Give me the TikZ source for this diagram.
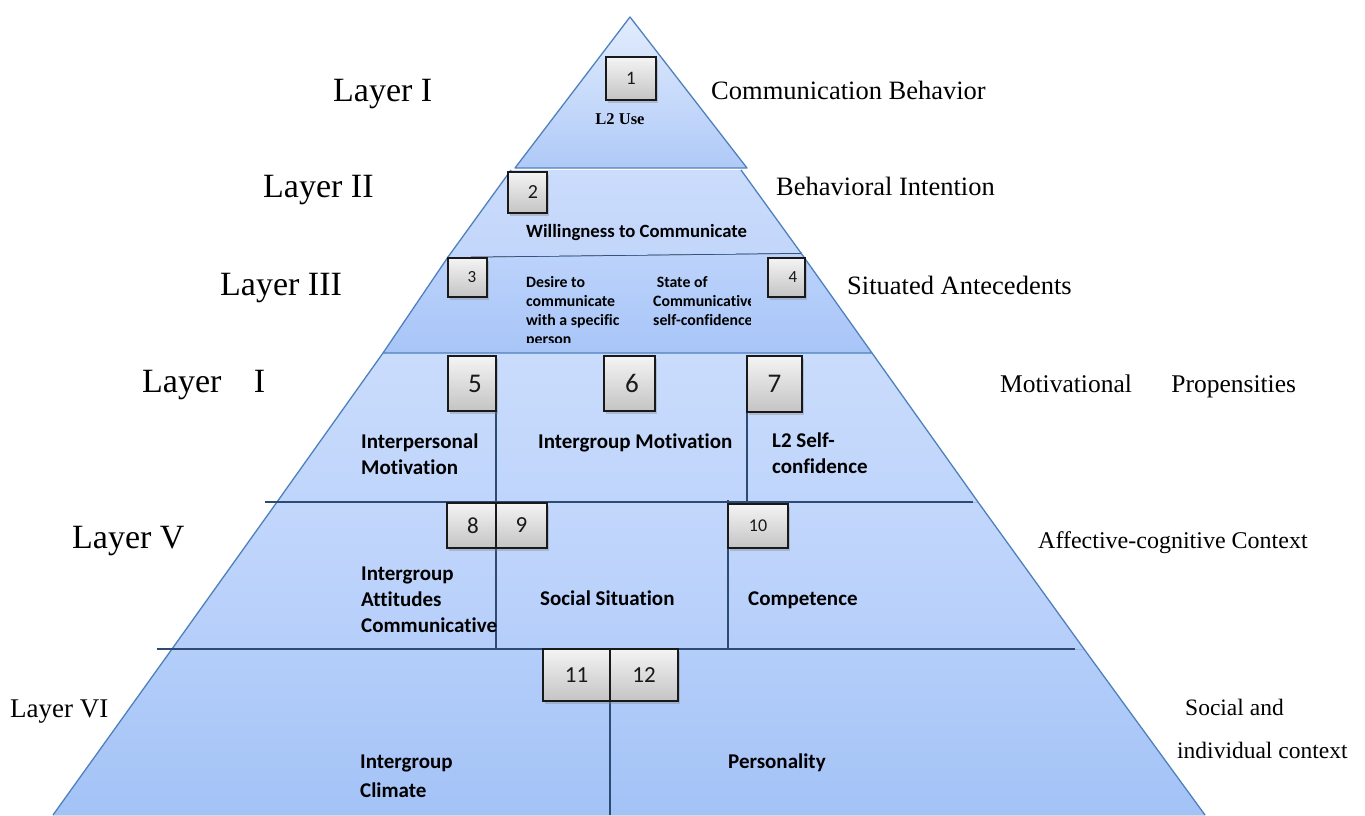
\documentclass[tikz,border=0pt]{standalone}
\usepackage{fontspec}
\setmainfont{Liberation Serif}
\newfontfamily\calibri[Ligatures=NoCommon]{Carlito}
\usetikzlibrary{shadows}
\definecolor{edgeblue}{HTML}{4F81BD}
\definecolor{navyline}{HTML}{2C4A72}
\definecolor{boxtop}{HTML}{F4F4F4}
\definecolor{boxbot}{HTML}{C4C4C4}
\definecolor{l6a}{HTML}{B4CEFA}
\definecolor{l6b}{HTML}{A3C2F6}
\definecolor{l5a}{HTML}{C3D7FC}
\definecolor{l5b}{HTML}{B5CEFA}
\definecolor{l4a}{HTML}{CADCFC}
\definecolor{l4b}{HTML}{BFD5FB}
\definecolor{l3a}{HTML}{BCD3FB}
\definecolor{l3b}{HTML}{A8C5F8}
\definecolor{l2a}{HTML}{CBDCFC}
\definecolor{l2b}{HTML}{C2D6FB}
\definecolor{l1a}{HTML}{E2ECFD}
\definecolor{l1b}{HTML}{AFCAF8}
\begin{document}
\begin{tikzpicture}[x=1pt,y=-1pt,
  layerfill/.style={draw=edgeblue, line width=1.3pt, line join=round},
  numbox/.style={draw=black!90, line width=1.5pt, top color=boxtop, bottom color=boxbot,
     drop shadow={opacity=0.35,shadow xshift=1.5pt,shadow yshift=-2.5pt},
     inner sep=0pt, font=\calibri, text=black!90},
  sidelbl/.style={anchor=base west, inner sep=0pt, font=\fontsize{26.5}{30}\selectfont},
  taglbl/.style={anchor=base west, inner sep=0pt, font=\fontsize{34}{40}\selectfont},
  cellbig/.style={anchor=base west, inner sep=0pt, align=left, font=\calibri\bfseries\fontsize{21}{26}\selectfont},
  cellsmall/.style={anchor=base west, inner sep=0pt, align=left, font=\calibri\bfseries\fontsize{15.8}{19}\selectfont},
  divider/.style={draw=navyline, line width=1.2pt},
  sepline/.style={draw=navyline, line width=1.8pt}]
\useasboundingbox (0,0) rectangle (1365,815);

% layer 6
\fill[top color=l6a, bottom color=l6b] (172,649) -- (1084,649) -- (1205,815) -- (53,815) -- cycle;
\draw[edgeblue, line width=1.3pt] (172,649) -- (53,815) (1084,649) -- (1205,815);
% layer 5
\fill[top color=l5a, bottom color=l5b] (277,502) -- (978,502) -- (1084,649) -- (172,649) -- cycle;
\draw[edgeblue, line width=1.3pt] (277,502) -- (172,649) (978,502) -- (1084,649);
% layer 4
\fill[top color=l4a, bottom color=l4b] (383,353) -- (872,353) -- (978,502) -- (277,502) -- cycle;
\draw[edgeblue, line width=1.3pt] (383,353) -- (277,502) (872,353) -- (978,502);
% layer 3
\path[layerfill, top color=l3a, bottom color=l3b] (448,257) -- (801,253) -- (872,353) -- (383,353) -- cycle;
\draw[navyline, line width=1.5pt] (448,257) -- (801,253);
% layer 2
\fill[top color=l2a, bottom color=l2b] (511,170) -- (741,170) -- (801,253) -- (448,257) -- cycle;
\draw[edgeblue, line width=1.3pt] (511,170) -- (448,257) (741,170) -- (801,253);
% layer 1
\path[layerfill, top color=l1a, bottom color=l1b] (630,17) -- (747,168) -- (515,168) -- cycle;

% separators and dividers
\draw[sepline] (265,502) -- (973,502);
\draw[sepline] (157,649) -- (1075,649);
\draw[divider] (496,411) -- (496,649);
\draw[divider] (747,412) -- (747,502);
\draw[divider] (728,500) -- (728,649);
\draw[divider] (610,701) -- (610,815);

% number boxes
\node[numbox, minimum width=50pt, minimum height=43pt, font=\calibri\fontsize{19}{20}\selectfont] (b1) at (631,78.5) {1};
\node[numbox, minimum width=39pt, minimum height=41pt, font=\calibri\fontsize{20}{20}\selectfont] (b2) at (527.5,192.5) {\hspace*{11pt}2};
\node[numbox, minimum width=39pt, minimum height=39pt, font=\calibri\fontsize{17}{20}\selectfont] (b3) at (467.5,277.5) {\hspace*{9pt}3};
\node[numbox, minimum width=37pt, minimum height=39pt, font=\calibri\fontsize{17}{20}\selectfont] (b4) at (786.5,277.5) {\hspace*{13pt}4};
\node[numbox, minimum width=48pt, minimum height=55pt, font=\calibri\fontsize{27}{28}\selectfont] (b5) at (472,383.5) {\hspace*{6pt}5};
\node[numbox, minimum width=51pt, minimum height=55pt, font=\calibri\fontsize{27}{28}\selectfont] (b6) at (629.5,383.5) {\hspace*{5pt}6};
\node[numbox, minimum width=55pt, minimum height=56pt, font=\calibri\fontsize{27}{28}\selectfont] (b7) at (774.5,384) {7};
\node[numbox, minimum width=49pt, minimum height=45pt, font=\calibri\fontsize{23}{24}\selectfont] (b8) at (471.5,525.5) {\hspace*{3pt}8};
\node[numbox, minimum width=51pt, minimum height=45pt, font=\calibri\fontsize{23}{24}\selectfont] (b9) at (521.5,525.5) {9};
\node[numbox, minimum width=60pt, minimum height=44pt, font=\calibri\fontsize{18}{20}\selectfont] (b10) at (758,526) {10};
\node[numbox, minimum width=67pt, minimum height=52pt, font=\calibri\fontsize{23}{24}\selectfont] (b11) at (576.5,675) {11};
\node[numbox, minimum width=68pt, minimum height=52pt, font=\calibri\fontsize{23}{24}\selectfont] (b12) at (644,675) {12};

% cell texts (base anchor = last line baseline)
\node[anchor=base, inner sep=0pt, font=\bfseries\fontsize{16.5}{18}\selectfont] (t1) at (620,124) {L2 Use};
\node[anchor=base west, inner sep=0pt, font=\calibri\bfseries\fontsize{18.7}{24}\selectfont] (t2) at (526,237) {Willingness to Communicate};
\begin{scope}
\clip (500,260) rectangle (750,342);
\node[cellsmall] (t3) at (526,344) {Desire to\\communicate\\with a specific\\person};
\node[cellsmall] (t4) at (653,325) {\ State of\\Communicative\\self-confidence};
\end{scope}
\node[cellbig] (t5) at (361,474) {Interpersonal\\Motivation};
\node[cellbig] (t6) at (538,448) {Intergroup Motivation};
\node[cellbig] (t7) at (772,473) {L2 Self-\\confidence};
\node[cellbig] (t8) at (361,632) {Intergroup\\Attitudes\\Communicative};
\node[cellbig] (t9) at (540,605) {Social Situation};
\node[cellbig] (t10) at (748,605) {Competence};
\node[cellbig, font=\calibri\bfseries\fontsize{21}{29}\selectfont] (t11) at (360,797) {Intergroup\\Climate};
\node[cellbig] (t12) at (728,768) {Personality};

% layer tags
\node[taglbl] (g1) at (333,101) {Layer I};
\node[taglbl] (g2) at (263,197) {Layer II};
\node[taglbl] (g3) at (220,295) {Layer III};
\node[taglbl] (g4) at (142,392) {Layer\hspace*{24pt} I};
\node[taglbl] (g5) at (72,548) {Layer V};
\node[taglbl, font=\fontsize{27}{30}\selectfont] (g6) at (10,717) {Layer VI};

% side labels
\node[sidelbl] (s1) at (711,99) {Communication Behavior};
\node[sidelbl] (s2) at (776,195) {Behavioral Intention};
\node[sidelbl] (s3) at (847,294) {Situated Antecedents};
\node[sidelbl, font=\fontsize{25.5}{30}\selectfont] (s4) at (1000,392) {Motivational\hspace*{33pt} Propensities};
\node[sidelbl, font=\fontsize{24}{30}\selectfont] (s5) at (1038,548) {Affective-cognitive Context};
\node[sidelbl, font=\fontsize{23.5}{30}\selectfont] (s6) at (1185,715) {Social and};
\node[sidelbl, font=\fontsize{23.5}{30}\selectfont] (s7) at (1177,758) {individual context};
\end{tikzpicture}
\end{document}
